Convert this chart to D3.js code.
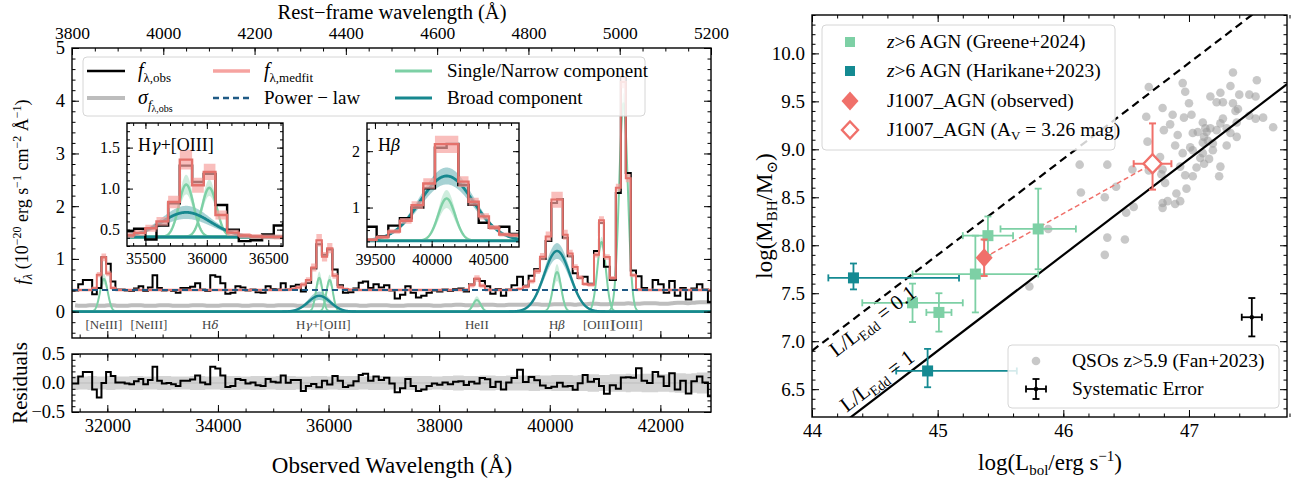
<!DOCTYPE html>
<html>
<head>
<meta charset="utf-8">
<title>J1007_AGN: spectrum fit and black-hole mass</title>
<script src="https://cdn.jsdelivr.net/npm/d3@7/dist/d3.min.js"></script>
<style>
  html, body { margin: 0; padding: 0; background: #ffffff; }
  svg { display: block; }
</style>
</head>
<body>
<svg id="fig"></svg>
<script>
// ===================== Spectrum data (observed frame, Angstrom) =====================
const binEdges = [
  31360, 31474, 31558, 31642, 31726, 31810, 31894, 31978, 32062, 32146, 32230, 32314,
  32398, 32482, 32566, 32650, 32734, 32818, 32902, 32986, 33070, 33154, 33238, 33322,
  33406, 33497, 33588, 33679, 33770, 33861, 33952, 34043, 34134, 34225, 34316, 34407,
  34498, 34589, 34680, 34771, 34862, 34953, 35044, 35135, 35226, 35317, 35408,
  35499, 35590, 35685, 35780, 35880, 35975, 36070, 36165, 36260, 36355, 36450, 36545,
  36620, 36716, 36812, 36908, 37004, 37100, 37196, 37292, 37388, 37484, 37580, 37676,
  37772, 37868, 37964, 38060, 38156, 38252, 38348, 38444, 38540, 38636, 38732, 38828,
  38924, 39020, 39116, 39212, 39308,
  39410, 39515, 39618, 39720, 39823, 39926, 40029, 40132,
  40235, 40325, 40415, 40505, 40595, 40685, 40800, 40890, 40980, 41085, 41195, 41285, 41375, 41465,
  41560, 41660, 41760, 41860, 41960, 42060, 42160, 42260, 42360, 42460, 42560, 42660, 42760, 42860,
  42950
];
const fluxObs = [
  0.40, 0.52, 0.60, 0.60, 0.33, 0.45, 1.03, 0.91, 0.57, 0.42, 0.42, 0.40,
  0.39, 0.44, 0.48, 0.39, 0.46, 0.69, 0.45, 0.40, 0.41, 0.39, 0.36, 0.45,
  0.45, 0.47, 0.54, 0.42, 0.39, 0.69, 0.66, 0.54, 0.34, 0.36, 0.48, 0.46,
  0.40, 0.42, 0.37, 0.36, 0.48, 0.43, 0.42, 0.54, 0.42, 0.48, 0.51,
  0.38, 0.55, 0.82, 1.28, 1.08, 1.18, 0.80, 0.50, 0.36, 0.37, 0.44, 0.55,
  0.57, 0.45, 0.52, 0.46, 0.50, 0.40, 0.25, 0.32, 0.48, 0.36, 0.27, 0.30,
  0.36, 0.40, 0.38, 0.42, 0.39, 0.43, 0.44, 0.38, 0.52, 0.62, 0.58, 0.48,
  0.34, 0.43, 0.30, 0.42, 0.50,
  0.66, 0.49, 0.68, 0.81, 1.00, 1.34, 2.06, 2.13,
  1.40, 1.05, 0.73, 0.64, 0.66, 0.53, 1.15, 1.68, 0.85, 0.60, 2.25, 4.45, 2.63, 0.78,
  0.67, 0.45, 0.41, 0.60, 0.52, 0.36, 0.58, 0.30, 0.45, 0.23, 0.44, 0.52, 0.42, 0.18
];
const fluxErr = [
  0.12, 0.11, 0.11, 0.12, 0.12, 0.11, 0.11, 0.12, 0.12, 0.11, 0.11, 0.11,
  0.12, 0.12, 0.12, 0.11, 0.11, 0.11, 0.12, 0.12, 0.12, 0.11, 0.11, 0.11,
  0.11, 0.12, 0.12, 0.12, 0.11, 0.11, 0.11, 0.12, 0.12, 0.12, 0.12, 0.11,
  0.11, 0.12, 0.12, 0.12, 0.11, 0.11, 0.12, 0.12, 0.12, 0.12, 0.11,
  0.11, 0.11, 0.12, 0.12, 0.12, 0.11, 0.11, 0.12, 0.12, 0.12, 0.12, 0.11,
  0.11, 0.12, 0.12, 0.12, 0.12, 0.11, 0.11, 0.11, 0.12, 0.12, 0.12, 0.12,
  0.12, 0.11, 0.11, 0.12, 0.12, 0.13, 0.13, 0.12, 0.12, 0.12, 0.13, 0.13,
  0.13, 0.12, 0.12, 0.13, 0.13,
  0.13, 0.13, 0.14, 0.14, 0.13, 0.13, 0.14, 0.14,
  0.14, 0.14, 0.13, 0.14, 0.14, 0.15, 0.15, 0.14, 0.14, 0.15, 0.15, 0.15, 0.16, 0.15,
  0.15, 0.16, 0.16, 0.16, 0.15, 0.15, 0.16, 0.17, 0.17, 0.16, 0.17, 0.18, 0.18, 0.18
];
const continuumLevel = 0.41;     // power-law continuum (flat over this range)
const continuumErr = 0.03;
const redshiftFactor = 8.253;    // 1 + z
const fitBandFraction = 0.45;    // share of the component ranges shown around the median fit

// Gaussian emission-line components of the fit
const lineCenters = [31938, 35832, 36020, 35832, 38682, 40132, 40132, 40937, 41333];
const lineSigmas  = [70, 60, 60, 200, 70, 75, 235, 78, 78];
const lineAmps    = [0.62, 0.64, 0.60, 0.30, 0.22, 0.75, 1.15, 1.32, 3.95];
const lineAmpLo   = [0.52, 0.52, 0.50, 0.22, 0.15, 0.58, 1.00, 1.22, 3.75];
const lineAmpHi   = [0.72, 0.76, 0.70, 0.38, 0.29, 0.90, 1.30, 1.42, 4.15];
const lineKinds   = ["narrow", "narrow", "narrow", "broad", "narrow", "narrow", "broad", "narrow", "narrow"];

const lineLabels = ["[NeIII]", "[NeIII]", "Hδ", "Hγ+[OIII]", "HeII", "Hβ", "[OIII]", "[OIII]"];
const lineLabelWaves = [31938, 32753, 33861, 35905, 38682, 40132, 40880, 41400];

const obsTicks = [32000, 34000, 36000, 38000, 40000, 42000];
const restTicks = [3800, 4000, 4200, 4400, 4600, 4800, 5000, 5200];
const fluxTicks = [0, 1, 2, 3, 4, 5];
const residTicks = [-0.5, 0, 0.5];
const hgTicksX = [35500, 36000, 36500];
const hgTicksY = [0.5, 1.0, 1.5];
const hbTicksX = [39500, 40000, 40500];
const hbTicksY = [1, 2];

// ===================== Black-hole mass vs bolometric luminosity =====================
const fanLbol = [47.35,47.54,46.95,46.68,46.97,47.33,47.40,47.25,47.48,47.53,
  47.17,47.22,47.27,47.35,47.00,46.79,47.39,47.37,46.87,47.02,
  46.66,46.96,47.48,47.59,47.53,47.27,47.11,47.25,47.38,46.85,
  47.67,47.13,47.17,47.22,47.07,47.14,47.30,47.33,46.80,47.03,
  46.91,47.38,47.12,47.15,46.67,47.11,47.19,46.89,47.30,47.01,
  47.03,47.19,46.95,47.11,47.09,47.16,46.77,46.13,46.35,47.12,
  46.93,46.55,47.06,47.25,46.79,46.68,46.78,46.97,47.03,47.24,
  46.42,46.81,46.98,46.14,46.33,46.90,46.83,46.79,46.89,46.93,
  46.79,46.56,46.50,45.88,46.35,46.49,46.33,45.73];
const fanMbh = [9.80,9.72,9.69,9.65,9.60,9.66,9.57,9.59,9.57,9.55,
  9.55,9.49,9.49,9.48,9.48,9.43,9.42,9.40,9.36,9.36,
  9.34,9.33,9.35,9.33,9.32,9.32,9.28,9.27,9.28,9.26,
  9.23,9.22,9.22,9.20,9.18,9.18,9.22,9.17,9.20,9.17,
  9.15,9.13,9.13,9.09,9.08,9.07,9.06,9.04,9.04,9.02,
  8.99,8.99,8.96,8.96,8.91,8.90,8.92,8.84,8.84,8.85,
  8.82,8.79,8.81,8.82,8.79,8.78,8.74,8.73,8.72,8.72,
  8.61,8.65,8.59,8.55,8.50,8.54,8.46,8.44,8.43,8.46,
  8.39,8.40,8.34,8.17,8.08,8.06,7.90,7.57];

const greeneLbol = [44.80, 45.01, 45.30, 45.40, 45.80];
const greeneMbh  = [7.40, 7.30, 7.70, 8.10, 8.17];
const greeneLerr = [0.40, 0.10, 0.50, 0.20, 0.30];
const greeneMerr = [0.20, 0.20, 0.40, 0.20, 0.42];

const harikaneLbol = [44.33, 44.92];
const harikaneMbh  = [7.66, 6.69];
const harikaneLlo  = [0.20, 0.25];
const harikaneLhi  = [0.84, 0.71];
const harikaneMlo  = [0.12, 0.17];
const harikaneMhi  = [0.15, 0.23];

// J1007_AGN: [observed, dust-corrected with A_V = 3.26 mag]
const j1007Lbol = [45.37, 46.71];
const j1007Mbh  = [7.87, 8.85];
const j1007Lerr = [0.03, 0.15];
const j1007Mlo  = [0.19, 0.27];
const j1007Mhi  = [0.19, 0.42];

const systLbol = 47.50, systMbh = 7.25, systLerr = 0.08, systMerr = 0.20;

const eddRatios = [0.1, 1];
const eddLabels = ["0.1", "1"];
const lbolTicks = [44, 45, 46, 47];
const mbhTicks = [6.5, 7.0, 7.5, 8.0, 8.5, 9.0, 9.5, 10.0];

// ===================== Drawing =====================
const W = 1297, H = 484;
const FONT = "'Liberation Serif','DejaVu Serif','Times New Roman',serif";
const GREEK_FONT = "'DejaVu Serif','Liberation Serif',serif";
const COL = {
  obs: "#000000", sigma: "#bdbdbd", fit: "#e4716b", fitBand: "#f6a3a0",
  plaw: "#1f5a85", narrow: "#7dd0a5", broad: "#17888f",
  greene: "#7dd0a5", harikane: "#148a92", j1007: "#f0706a", fan: "#9a9a9a"
};

const svg = d3.select("#fig").attr("width", W).attr("height", H)
  .attr("font-family", FONT);
svg.append("rect").attr("width", W).attr("height", H).attr("fill", "#fff");
const defs = svg.append("defs");
let clipCount = 0;
function clipRect(x0, y0, x1, y1) {
  const id = "clip" + (clipCount++);
  defs.append("clipPath").attr("id", id).append("rect")
    .attr("x", x0).attr("y", y0).attr("width", x1 - x0).attr("height", y1 - y0);
  return `url(#${id})`;
}

// text with sub/superscripts; parts: {t, it, fs, sh, ff}
function rich(g, x, y, parts, size, anchor) {
  const t = g.append("text").attr("x", x).attr("y", y)
    .attr("font-family", FONT).attr("font-size", size)
    .attr("text-anchor", anchor || "start").attr("fill", "#000");
  let shift = 0;
  parts.forEach(p => {
    const s = t.append("tspan").text(p.t);
    const target = p.sh || 0;
    if (target !== shift) { s.attr("dy", target - shift); shift = target; }
    if (p.it) s.attr("font-style", "italic");
    if (p.fs) s.attr("font-size", p.fs);
    if (p.ff) s.attr("font-family", p.ff);
  });
  return t;
}
// Greek letters set in italic, as in math mode
function greekParts(str, size) {
  const out = [];
  for (const ch of str) {
    const it = /[\u0370-\u03ff]/.test(ch);
    const last = out[out.length - 1];
    if (last && last.it === it) last.t += ch;
    else out.push(it ? { t: ch, it: true, ff: GREEK_FONT, fs: size * 0.9 } : { t: ch, it: false });
  }
  return out;
}

function styleAxis(a, size) {
  a.select(".domain").remove();
  a.selectAll(".tick line").attr("stroke", "#000").attr("stroke-width", 1);
  a.selectAll(".tick text").attr("font-family", FONT).attr("font-size", size).attr("fill", "#000");
}
function ticksOn(g, scale, orient, pos, major, minor, fmt, size, majLen, minLen, pad) {
  const mk = { bottom: d3.axisBottom, top: d3.axisTop, left: d3.axisLeft, right: d3.axisRight }[orient];
  const tr = (orient === "bottom" || orient === "top") ? `translate(0,${pos})` : `translate(${pos},0)`;
  const ml = minLen || 3.5, Ml = majLen || 7;
  const a1 = g.append("g").attr("transform", tr)
    .call(mk(scale).tickValues(minor).tickSize(-ml).tickFormat(() => ""));
  styleAxis(a1, size);
  const a2 = g.append("g").attr("transform", tr)
    .call(mk(scale).tickValues(major).tickSize(-Ml).tickPadding(pad || 7).tickFormat(fmt || (() => "")));
  styleAxis(a2, size);
}
function frame(g, x0, y0, x1, y1) {
  g.append("rect").attr("x", x0).attr("y", y0).attr("width", x1 - x0).attr("height", y1 - y0)
    .attr("fill", "none").attr("stroke", "#000").attr("stroke-width", 1.4);
}

// ---------- model ----------
const nBins = fluxObs.length;
const binCenters = d3.range(nBins).map(i => (binEdges[i] + binEdges[i + 1]) / 2);
const gauss = (l, c, s, a) => a * Math.exp(-0.5 * ((l - c) / s) ** 2);
const allIdx = d3.range(lineCenters.length);
const bandLo = allIdx.map(k => lineAmps[k] - fitBandFraction * (lineAmps[k] - lineAmpLo[k]));
const bandHi = allIdx.map(k => lineAmps[k] + fitBandFraction * (lineAmpHi[k] - lineAmps[k]));
const lineSum = (l, amps) => allIdx.reduce((acc, k) => acc + gauss(l, lineCenters[k], lineSigmas[k], amps[k]), 0);
const fitMed = binCenters.map(l => continuumLevel + lineSum(l, lineAmps));
const fitLo = binCenters.map(l => continuumLevel - continuumErr + lineSum(l, bandLo));
const fitHi = binCenters.map(l => continuumLevel + continuumErr + lineSum(l, bandHi));
const residual = fluxObs.map((f, i) => f - fitMed[i]);

const stepPts = vals => vals.flatMap((v, i) => [[binEdges[i], v], [binEdges[i + 1], v]]);
const stepBand = (lo, hi) => lo.flatMap((v, i) => [[binEdges[i], v, hi[i]], [binEdges[i + 1], v, hi[i]]]);

// ---------- scales: spectrum ----------
const xObs = d3.scaleLinear().domain([3800 * redshiftFactor, 5200 * redshiftFactor]).range([72, 711]);
const xRest = d3.scaleLinear().domain(xObs.domain().map(v => v / redshiftFactor)).range(xObs.range());
const yMain = d3.scaleLinear().domain([-0.5, 5]).range([338, 48]);
const yRes = d3.scaleLinear().domain([-0.5, 0.5]).range([412, 354]);

function drawComponents(g, x, y, base, lw) {
  const [d0, d1] = x.domain();
  const grid = d3.range(d0 - 20, d1 + 20, 3);
  const broadFirst = allIdx.slice().sort((a, b) => (lineKinds[a] === "broad" ? 0 : 1) - (lineKinds[b] === "broad" ? 0 : 1));
  broadFirst.forEach(k => {
    const col = lineKinds[k] === "broad" ? COL.broad : COL.narrow;
    g.append("path").datum(grid)
      .attr("d", d3.area().x(l => x(l))
        .y0(l => y(base + gauss(l, lineCenters[k], lineSigmas[k], lineAmpLo[k])))
        .y1(l => y(base + gauss(l, lineCenters[k], lineSigmas[k], lineAmpHi[k]))))
      .attr("fill", col).attr("fill-opacity", 0.38);
  });
  ["narrow", "broad"].forEach(kind => {
    allIdx.filter(k => lineKinds[k] === kind).forEach(k => {
      g.append("path").datum(grid)
        .attr("d", d3.line().x(l => x(l)).y(l => y(base + gauss(l, lineCenters[k], lineSigmas[k], lineAmps[k]))))
        .attr("fill", "none").attr("stroke", kind === "broad" ? COL.broad : COL.narrow)
        .attr("stroke-width", kind === "broad" ? lw + 0.4 : lw);
    });
  });
}
function drawObsAndFit(g, x, y, lw) {
  g.append("path").datum(stepPts(fluxObs))
    .attr("d", d3.line().x(d => x(d[0])).y(d => y(d[1])))
    .attr("fill", "none").attr("stroke", COL.obs).attr("stroke-width", lw).attr("stroke-linejoin", "miter");
  g.append("path").datum(stepBand(fitLo, fitHi))
    .attr("d", d3.area().x(d => x(d[0])).y0(d => y(d[1])).y1(d => y(d[2])))
    .attr("fill", COL.fitBand).attr("fill-opacity", 0.7);
  g.append("path").datum(stepPts(fitMed))
    .attr("d", d3.line().x(d => x(d[0])).y(d => y(d[1])))
    .attr("fill", "none").attr("stroke", COL.fit).attr("stroke-width", lw);
}

// ---------- main spectrum panel ----------
const gMain = svg.append("g");
const mainContent = gMain.append("g").attr("clip-path", clipRect(72, 48, 711, 338));
mainContent.append("path").datum(binCenters.map((l, i) => [l, fluxErr[i]]))
  .attr("d", d3.line().x(d => xObs(d[0])).y(d => yMain(d[1])).curve(d3.curveMonotoneX))
  .attr("fill", "none").attr("stroke", COL.sigma).attr("stroke-width", 4);
drawComponents(mainContent, xObs, yMain, 0, 2);
drawObsAndFit(mainContent, xObs, yMain, 2);
mainContent.append("path").datum(xObs.domain())
  .attr("d", d3.line().x(l => xObs(l)).y(() => yMain(continuumLevel)))
  .attr("fill", "none").attr("stroke", COL.plaw).attr("stroke-width", 2.2).attr("stroke-dasharray", "6,4");

lineLabels.forEach((lab, i) => {
  const t = gMain.append("text").attr("x", xObs(lineLabelWaves[i])).attr("y", 329)
    .attr("text-anchor", "middle").attr("font-size", 13).attr("fill", "#444");
  greekParts(lab, 13).forEach(p => {
    const s = t.append("tspan").text(p.t);
    if (p.it) s.attr("font-style", "italic").attr("font-family", p.ff).attr("font-size", p.fs);
  });
});

frame(gMain, 72, 48, 711, 338);
ticksOn(gMain, xRest, "top", 48, restTicks, d3.range(3800, 5201, 50), d3.format("d"), 17.5, 7, 3.5, 9.5);
ticksOn(gMain, xObs, "bottom", 338, obsTicks, d3.range(31500, 43000, 500), null, 18.5);
ticksOn(gMain, yMain, "left", 72, fluxTicks, d3.range(-2, 26).map(i => i * 0.2), d3.format("d"), 18.5);
ticksOn(gMain, yMain, "right", 711, fluxTicks, d3.range(-2, 26).map(i => i * 0.2), null, 18.5);

// legend of the spectrum panel
const lg = gMain.append("g");
lg.append("rect").attr("x", 83).attr("y", 57).attr("width", 562).attr("height", 59).attr("rx", 4)
  .attr("fill", "#fff").attr("fill-opacity", 0.82).attr("stroke", "#d6d6d6").attr("stroke-width", 1);
const legRows = [71, 98];
function legLine(x0, x1, y, color, w, dash) {
  const l = lg.append("line").attr("x1", x0).attr("x2", x1).attr("y1", y).attr("y2", y)
    .attr("stroke", color).attr("stroke-width", w);
  if (dash) l.attr("stroke-dasharray", dash);
}
legLine(87, 125, legRows[0], COL.obs, 2.4);
rich(lg, 138, legRows[0] + 6, [{ t: "f", it: true }, { t: "λ,obs", fs: 13, sh: 5 }], 20);
legLine(87, 125, legRows[1], COL.sigma, 4);
rich(lg, 138, legRows[1] + 6, [{ t: "σ", it: true }, { t: "f", it: true, fs: 13, sh: 5 }, { t: "λ,obs", fs: 10, sh: 8 }], 20);
legLine(213, 250, legRows[0], COL.fitBand, 3.4);
rich(lg, 264, legRows[0] + 6, [{ t: "f", it: true }, { t: "λ,medfit", fs: 13, sh: 5 }], 20);
legLine(213, 250, legRows[1], COL.plaw, 2.4, "6,4");
rich(lg, 264, legRows[1] + 6, [{ t: "Power − law" }], 19);
legLine(395, 432, legRows[0], COL.narrow, 3);
rich(lg, 447, legRows[0] + 6, [{ t: "Single/Narrow component" }], 19);
legLine(395, 432, legRows[1], COL.broad, 3);
rich(lg, 447, legRows[1] + 6, [{ t: "Broad component" }], 19);

// ---------- insets ----------
function inset(box, xd, yd, xt, yt, yfmt, label) {
  const [x0, y0, x1, y1] = box;
  const x = d3.scaleLinear().domain(xd).range([x0, x1]);
  const y = d3.scaleLinear().domain(yd).range([y1, y0]);
  const g = svg.append("g");
  g.append("rect").attr("x", x0).attr("y", y0).attr("width", x1 - x0).attr("height", y1 - y0).attr("fill", "#fff");
  const c = g.append("g").attr("clip-path", clipRect(x0, y0, x1, y1));
  drawComponents(c, x, y, continuumLevel, 2.4);
  drawObsAndFit(c, x, y, 2.4);
  frame(g, x0, y0, x1, y1);
  const xm = d3.range(Math.ceil(xd[0] / 100) * 100, xd[1], 100);
  const ystep = yt[1] - yt[0] > 0.6 ? 0.2 : 0.1;
  const ym = d3.range(Math.ceil(yd[0] / ystep - 1e-6), Math.floor(yd[1] / ystep + 1e-6) + 1).map(i => i * ystep);
  ticksOn(g, x, "bottom", y1, xt, xm, d3.format("d"), 16, 6, 3);
  ticksOn(g, x, "top", y0, xt, xm, null, 16, 6, 3);
  ticksOn(g, y, "left", x0, yt, ym, yfmt, 16, 6, 3);
  ticksOn(g, y, "right", x1, yt, ym, null, 16, 6, 3);
  rich(g, x0 + 11, y0 + 28, greekParts(label, 18), 18);
}
inset([127, 123, 283, 246], [35350, 36620], [0.3, 1.8], hgTicksX, hgTicksY, d3.format(".1f"), "Hγ+[OIII]");
inset([367, 123, 519, 247], [39430, 40770], [0.3, 2.5], hbTicksX, hbTicksY, d3.format("d"), "Hβ");

// ---------- residual panel ----------
const gRes = svg.append("g");
const resContent = gRes.append("g").attr("clip-path", clipRect(72, 354, 711, 412));
resContent.append("path").datum(stepBand(fluxErr.map(e => -e), fluxErr))
  .attr("d", d3.area().x(d => xObs(d[0])).y0(d => yRes(d[1])).y1(d => yRes(d[2])))
  .attr("fill", "#d4d4d4");
resContent.append("line").attr("x1", 72).attr("x2", 711).attr("y1", yRes(0)).attr("y2", yRes(0))
  .attr("stroke", "#bdbdbd").attr("stroke-width", 1);
resContent.append("path").datum(stepPts(residual))
  .attr("d", d3.line().x(d => xObs(d[0])).y(d => yRes(d[1])))
  .attr("fill", "none").attr("stroke", "#000").attr("stroke-width", 2);
frame(gRes, 72, 354, 711, 412);
ticksOn(gRes, xObs, "bottom", 412, obsTicks, d3.range(31500, 43000, 500), d3.format("d"), 18.5);
ticksOn(gRes, xObs, "top", 354, obsTicks, d3.range(31500, 43000, 500), null, 18.5);
ticksOn(gRes, yRes, "left", 72, residTicks, d3.range(-5, 6).map(i => i * 0.1), d3.format(".1f"), 18.5);
ticksOn(gRes, yRes, "right", 711, residTicks, d3.range(-5, 6).map(i => i * 0.1), null, 18.5);

// axis titles of the spectrum
rich(svg, 392, 18.5, [{ t: "Rest−frame wavelength (Å)" }], 20.5, "middle");
rich(svg, 392, 473, [{ t: "Observed Wavelength (Å)" }], 23, "middle");
rich(svg.append("g").attr("transform", "translate(28,192) rotate(-90)"), 0, 0, [
  { t: "f", it: true }, { t: "λ", it: true, fs: 13, sh: 4 }, { t: " (10", sh: 0 },
  { t: "−20", fs: 12, sh: -7 }, { t: " erg s", sh: 0 }, { t: "−1", fs: 12, sh: -7 },
  { t: " cm", sh: 0 }, { t: "−2", fs: 12, sh: -7 }, { t: " Å", sh: 0 },
  { t: "−1", fs: 12, sh: -7 }, { t: ")", sh: 0 }], 18, "middle");
rich(svg.append("g").attr("transform", "translate(27,383) rotate(-90)"), 0, 0, [{ t: "Residuals" }], 21, "middle");

// ===================== right panel =====================
const xR = d3.scaleLinear().domain([44, 47.78]).range([812, 1287]);
const yR = d3.scaleLinear().domain([6.21, 10.4]).range([417, 15]);
const gR = svg.append("g");
const rc = gR.append("g").attr("clip-path", clipRect(812, 15, 1287, 417));

rc.selectAll("circle.fan").data(fanLbol).enter().append("circle")
  .attr("cx", d => xR(d)).attr("cy", (d, i) => yR(fanMbh[i])).attr("r", 4.3)
  .attr("fill", COL.fan).attr("fill-opacity", 0.55);

const eddConst = Math.log10(1.26e38);
const eddM = (L, r) => L - Math.log10(r) - eddConst;
eddRatios.forEach((r, i) => {
  rc.append("path").datum(xR.domain())
    .attr("d", d3.line().x(L => xR(L)).y(L => yR(eddM(L, r))))
    .attr("fill", "none").attr("stroke", "#000").attr("stroke-width", 2.2)
    .attr("stroke-dasharray", r < 1 ? "8,5" : null);
});
// labels along the Eddington-ratio lines
const eddAngle = Math.atan2(yR(eddM(45, 1)) - yR(eddM(44, 1)), xR(45) - xR(44)) * 180 / Math.PI;
const eddLabelL = [44.42, 44.58];
const eddLabelOffset = [13, -13];
eddRatios.forEach((r, i) => {
  const L = eddLabelL[i];
  const px = xR(L), py = yR(eddM(L, r));
  const a = eddAngle * Math.PI / 180;
  const ox = -Math.sin(a) * eddLabelOffset[i], oy = Math.cos(a) * eddLabelOffset[i];
  const g = gR.append("g").attr("transform", `translate(${px + ox},${py + oy}) rotate(${eddAngle})`);
  rich(g, 0, 7, [{ t: "L/L" }, { t: "Edd", fs: 14, sh: 4 }, { t: " = " + eddLabels[i], sh: 0 }], 21, "middle");
});

function errBar(g, x, y, xlo, xhi, ylo, yhi, color, lw, cap) {
  const c = cap || 3.5;
  const seg = (x1, y1, x2, y2) => g.append("line").attr("x1", x1).attr("y1", y1).attr("x2", x2).attr("y2", y2)
    .attr("stroke", color).attr("stroke-width", lw);
  if (xhi > xlo) {
    seg(xR(xlo), yR(y), xR(xhi), yR(y));
    seg(xR(xlo), yR(y) - c, xR(xlo), yR(y) + c);
    seg(xR(xhi), yR(y) - c, xR(xhi), yR(y) + c);
  }
  seg(xR(x), yR(ylo), xR(x), yR(yhi));
  seg(xR(x) - c, yR(ylo), xR(x) + c, yR(ylo));
  seg(xR(x) - c, yR(yhi), xR(x) + c, yR(yhi));
}
const diamond = (cx, cy, rx, ry) => `M${cx},${cy - ry}L${cx + rx},${cy}L${cx},${cy + ry}L${cx - rx},${cy}Z`;

// extinction-correction track
rc.append("path").datum([0, 1])
  .attr("d", d3.line().x(i => xR(j1007Lbol[i])).y(i => yR(j1007Mbh[i])))
  .attr("stroke", COL.j1007).attr("stroke-width", 1.5).attr("stroke-dasharray", "5,3").attr("fill", "none");

harikaneLbol.forEach((L, i) => {
  errBar(rc, L, harikaneMbh[i], L - harikaneLlo[i], L + harikaneLhi[i],
    harikaneMbh[i] - harikaneMlo[i], harikaneMbh[i] + harikaneMhi[i], COL.harikane, 1.8);
  rc.append("rect").attr("x", xR(L) - 5.5).attr("y", yR(harikaneMbh[i]) - 5.5).attr("width", 11).attr("height", 11)
    .attr("fill", COL.harikane);
});
greeneLbol.forEach((L, i) => {
  errBar(rc, L, greeneMbh[i], L - greeneLerr[i], L + greeneLerr[i],
    greeneMbh[i] - greeneMerr[i], greeneMbh[i] + greeneMerr[i], COL.greene, 1.8);
  rc.append("rect").attr("x", xR(L) - 5.5).attr("y", yR(greeneMbh[i]) - 5.5).attr("width", 11).attr("height", 11)
    .attr("fill", COL.greene);
});
j1007Lbol.forEach((L, i) => {
  errBar(rc, L, j1007Mbh[i], L - j1007Lerr[i], L + j1007Lerr[i],
    j1007Mbh[i] - j1007Mlo[i], j1007Mbh[i] + j1007Mhi[i], COL.j1007, 2);
});
rc.append("path").attr("d", diamond(xR(j1007Lbol[0]), yR(j1007Mbh[0]), 8.5, 9.5)).attr("fill", COL.j1007);
rc.append("path").attr("d", diamond(xR(j1007Lbol[1]), yR(j1007Mbh[1]), 9, 9.5))
  .attr("fill", "#fff").attr("stroke", COL.j1007).attr("stroke-width", 2.4);

errBar(rc, systLbol, systMbh, systLbol - systLerr, systLbol + systLerr, systMbh - systMerr, systMbh + systMerr, "#000", 1.8);
rc.append("circle").attr("cx", xR(systLbol)).attr("cy", yR(systMbh)).attr("r", 2.2).attr("fill", "#000");

// upper legend
const rl = gR.append("g");
rl.append("rect").attr("x", 822).attr("y", 25).attr("width", 293).attr("height", 125).attr("rx", 4)
  .attr("fill", "#fff").attr("fill-opacity", 0.82).attr("stroke", "#d6d6d6");
const rlRows = [42, 71, 101, 130];
rl.append("rect").attr("x", 845).attr("y", rlRows[0] - 5).attr("width", 10).attr("height", 10).attr("fill", COL.greene);
rl.append("rect").attr("x", 845).attr("y", rlRows[1] - 5).attr("width", 10).attr("height", 10).attr("fill", COL.harikane);
rl.append("path").attr("d", diamond(850, rlRows[2], 8.5, 9.5)).attr("fill", COL.j1007);
rl.append("path").attr("d", diamond(850, rlRows[3], 8, 8.5)).attr("fill", "#fff").attr("stroke", COL.j1007).attr("stroke-width", 2.4);
rich(rl, 887, rlRows[0] + 6, [{ t: "z", it: true }, { t: ">6 AGN (Greene+2024)" }], 19.5);
rich(rl, 887, rlRows[1] + 6, [{ t: "z", it: true }, { t: ">6 AGN (Harikane+2023)" }], 19.5);
rich(rl, 887, rlRows[2] + 6, [{ t: "J1007_AGN (observed)" }], 19.5);
rich(rl, 887, rlRows[3] + 6, [{ t: "J1007_AGN (A" }, { t: "V", fs: 13, sh: 4 }, { t: " = 3.26 mag)", sh: 0 }], 19.5);

// lower legend
const rl2 = gR.append("g");
rl2.append("rect").attr("x", 1008).attr("y", 345).attr("width", 271).attr("height", 63).attr("rx", 4)
  .attr("fill", "#fff").attr("fill-opacity", 0.82).attr("stroke", "#d6d6d6");
rl2.append("circle").attr("cx", 1036).attr("cy", 361).attr("r", 4.3).attr("fill", COL.fan).attr("fill-opacity", 0.55);
rich(rl2, 1072, 367, [{ t: "QSOs z>5.9 (Fan+2023)" }], 19.5);
[[1026, 389, 1046, 389], [1036, 379, 1036, 399], [1026, 385.5, 1026, 392.5], [1046, 385.5, 1046, 392.5],
 [1032.5, 379, 1039.5, 379], [1032.5, 399, 1039.5, 399]].forEach(s => {
  rl2.append("line").attr("x1", s[0]).attr("y1", s[1]).attr("x2", s[2]).attr("y2", s[3])
    .attr("stroke", "#000").attr("stroke-width", 1.8);
});
rl2.append("circle").attr("cx", 1036).attr("cy", 389).attr("r", 2.2).attr("fill", "#000");
rich(rl2, 1072, 395, [{ t: "Systematic Error" }], 19.5);

frame(gR, 812, 15, 1287, 417);
const lbolMinor = d3.range(0, 20).map(i => 44 + i * 0.2);
const mbhMinor = d3.range(63, 105).map(i => i / 10);
ticksOn(gR, xR, "bottom", 417, lbolTicks, lbolMinor, d3.format("d"), 19);
ticksOn(gR, xR, "top", 15, lbolTicks, lbolMinor, null, 19);
ticksOn(gR, yR, "left", 812, mbhTicks, mbhMinor, d3.format(".1f"), 19);
ticksOn(gR, yR, "right", 1287, mbhTicks, mbhMinor, null, 19);

rich(svg, 1050, 470, [{ t: "log(L" }, { t: "bol", fs: 15, sh: 5 }, { t: "/erg s", sh: 0 }, { t: "−1", fs: 15, sh: -9 }, { t: ")", sh: 0 }], 23, "middle");
rich(svg.append("g").attr("transform", "translate(772,216) rotate(-90)"), 0, 0,
  [{ t: "log(M" }, { t: "BH", fs: 15, sh: 5 }, { t: "/M", sh: 0 }, { t: "⊙", fs: 15, sh: 5 }, { t: ")", sh: 0 }], 23, "middle");
</script>
</body>
</html>
